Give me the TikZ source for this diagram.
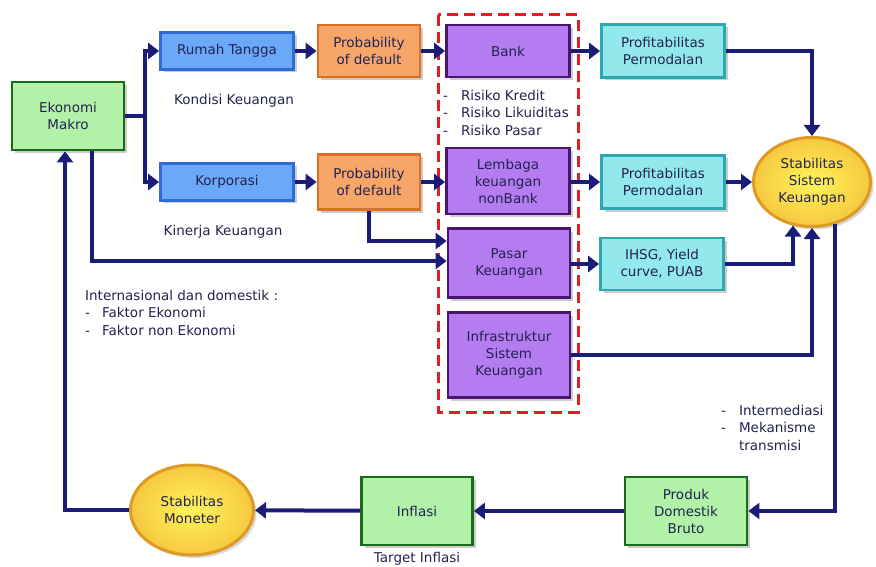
\documentclass[tikz,border=0pt]{standalone}
\usepackage{fontspec}
\setmainfont{DejaVu Sans}
\usetikzlibrary{arrows.meta,shapes.geometric,shadows,calc}
\definecolor{navy}{HTML}{1B1B78}
\definecolor{txt}{HTML}{222250}
\definecolor{bluefill}{HTML}{6CA8F8}
\definecolor{blueline}{HTML}{2F6AD6}
\definecolor{orfill}{HTML}{F7A66A}
\definecolor{orline}{HTML}{E06E22}
\definecolor{pufill}{HTML}{B47CF0}
\definecolor{puline}{HTML}{4A1470}
\definecolor{cyfill}{HTML}{92E8EA}
\definecolor{cyline}{HTML}{2EA8B0}
\definecolor{grfill}{HTML}{B2F2A8}
\definecolor{grline}{HTML}{1A6A1A}
\definecolor{yein}{HTML}{FFF45A}
\definecolor{yeout}{HTML}{F6C840}
\definecolor{yeline}{HTML}{DE9A22}
\definecolor{redd}{HTML}{E02020}
\begin{document}
\begin{tikzpicture}[x=1pt,y=-1pt,
  box/.style={draw, line width=2.8pt, align=center, text=txt,
    font=\fontsize{13.5}{17}\selectfont, inner sep=1pt,
    drop shadow={shadow xshift=3pt, shadow yshift=-3pt, opacity=0.4}},
  bluebox/.style={box, fill=bluefill, draw=blueline},
  orbox/.style={box, fill=orfill, draw=orline},
  pubox/.style={box, fill=pufill, draw=puline},
  cybox/.style={box, fill=cyfill, draw=cyline},
  grbox/.style={box, fill=grfill, draw=grline},
  yeell/.style={ellipse, draw=yeline, line width=3pt, inner color=yein, outer color=yeout,
    align=center, text=txt, font=\fontsize{13.5}{17}\selectfont, inner sep=0pt,
    drop shadow={shadow xshift=3pt, shadow yshift=-3pt, opacity=0.3}},
  lbl/.style={text=txt, font=\fontsize{13.5}{17.5}\selectfont, inner sep=0pt},
  conn/.style={draw=navy, line width=4pt, -{Triangle[length=11pt,width=16pt]}},
  plain/.style={draw=navy, line width=4pt}
]
\useasboundingbox (0,0) rectangle (876,567);

% red dashed box
\draw[redd, line width=3pt, dash pattern=on 11pt off 6pt] (438,15) rectangle (578,412);

% nodes
\node[grbox, minimum width=112, minimum height=68] (em) at (68,116) {Ekonomi\\Makro};
\node[bluebox, minimum width=133, minimum height=37] (rt) at (227,51) {Rumah Tangga};
\node[bluebox, minimum width=133, minimum height=37] (korp) at (227,182) {Korporasi};
\node[orbox, minimum width=102, minimum height=52] (pd1) at (369,51) {Probability\\of default};
\node[orbox, minimum width=102, minimum height=55] (pd2) at (369,182) {Probability\\of default};
\node[pubox, minimum width=123, minimum height=52] (bank) at (508,51) {Bank};
\node[pubox, minimum width=123, minimum height=66] (lem) at (508,181) {Lembaga\\keuangan\\nonBank};
\node[pubox, minimum width=122, minimum height=69] (pasar) at (509,263) {Pasar\\Keuangan};
\node[pubox, minimum width=122, minimum height=85] (infra) at (509,355) {Infrastruktur\\Sistem\\Keuangan};
\node[cybox, minimum width=123, minimum height=53] (prof1) at (663,51) {Profitabilitas\\Permodalan};
\node[cybox, minimum width=123, minimum height=53] (prof2) at (663,182) {Profitabilitas\\Permodalan};
\node[cybox, minimum width=123, minimum height=52] (ihsg) at (662,264) {IHSG, Yield\\curve, PUAB};
\node[yeell, minimum width=117, minimum height=89] (ssk) at (812,182) {Stabilitas\\Sistem\\Keuangan};
\node[grbox, minimum width=122, minimum height=68] (pdb) at (686,511) {Produk\\Domestik\\Bruto};
\node[grbox, minimum width=111, minimum height=68] (infl) at (417,511) {Inflasi};
\node[yeell, minimum width=123, minimum height=90] (sm) at (192,510) {Stabilitas\\Moneter};

% labels
\node[lbl] (kk) at (234,101) {Kondisi Keuangan};
\node[lbl] (kin) at (223,232) {Kinerja Keuangan};
\node[lbl, anchor=north west, align=left] (risk) at (443,88)
  {\begin{tabular}{@{}l@{\hspace{13pt}}l@{}}-&Risiko Kredit\\-&Risiko Likuiditas\\-&Risiko Pasar\end{tabular}};
\node[lbl, anchor=north west, align=left] (intl) at (85,288)
  {\begin{tabular}{@{}l@{}}Internasional dan domestik :\\
   \begin{tabular}{@{}l@{\hspace{12pt}}l@{}}-&Faktor Ekonomi\\-&Faktor non Ekonomi\end{tabular}\end{tabular}};
\node[lbl, anchor=north west, align=left] (inter) at (721,403)
  {\begin{tabular}{@{}l@{\hspace{13pt}}l@{}}-&Intermediasi\\-&Mekanisme\\&transmisi\end{tabular}};
\node[lbl] (ti) at (417,559) {Target Inflasi};

% connectors
\coordinate (j1) at (145,116);
\draw[plain] (em.east) -- (j1);
\draw[conn] (j1) |- (rt.west);
\draw[conn] (j1) |- (korp.west);
\draw[conn] (rt) -- (pd1);
\draw[conn] (pd1) -- (bank);
\draw[conn] (bank) -- (prof1);
\draw[conn] (prof1.east) -| (ssk.north);
\draw[conn] (korp) -- (pd2);
\draw[conn] (pd2) -- (lem.west |- pd2);
\draw[conn] (lem.east |- prof2) -- (prof2);
\draw[conn] (prof2) -- (ssk);
\draw[conn] (pd2.south) |- (pasar.west |- 0,241);
\draw[conn] ($(em.south)+(24,0)$) |- (pasar.west |- 0,261);
\draw[conn] (pasar.east |- ihsg) -- (ihsg);
\draw[conn] (ihsg.east) -| ($(ssk.south)+(-19,-2.5)$);
\draw[conn] (infra.east) -| (ssk.south);
\draw[conn] ($(ssk.south)+(23,-4)$) |- (pdb.east);
\draw[conn] (pdb) -- (infl);
\draw[conn] (infl) -- (sm);
\draw[conn] (sm.west) -| ($(em.south)+(-3,0)$);
\end{tikzpicture}
\end{document}
